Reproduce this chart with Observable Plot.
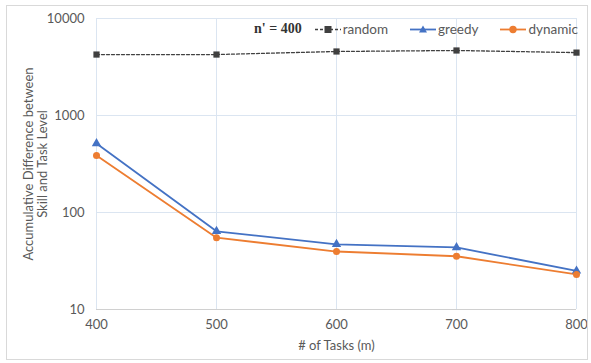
<!DOCTYPE html>
<html><head><meta charset="utf-8">
<script src="https://cdn.jsdelivr.net/npm/d3@7"></script>
<script src="https://cdn.jsdelivr.net/npm/@observablehq/plot@0.6"></script>
<style>
body{margin:0;background:#fff;font-family:Lato,"Open Sans",sans-serif;}
#wrap{position:relative;width:591px;height:363px;}
#frame{position:absolute;left:6px;top:5px;width:582px;height:355px;border:1px solid #d9d9d9;box-sizing:border-box;pointer-events:none;}
#legend{position:absolute;top:21px;left:254px;width:max-content;display:flex;align-items:center;font-size:13.5px;color:#595959;white-space:nowrap;}
#legend .n{font-family:"Liberation Serif","DejaVu Serif",serif;font-weight:bold;color:#333;font-size:14px;margin-right:12px;flex-shrink:0;}
#legend .it{display:flex;align-items:center;margin-right:21px;flex-shrink:0;}
#legend svg{margin-right:1px;}
</style></head>
<body><div id="wrap"><div id="frame"></div><div id="legend"></div></div>
<script>
const tasks = [400, 500, 600, 700, 800];
const random = [4250, 4250, 4570, 4680, 4450];
const greedy = [514, 64, 47, 43.6, 25];
const dynamic = [387, 55, 39.6, 35.4, 23];
const seriesNames = ["random", "greedy", "dynamic"];
const colors = ["#404040", "#4472C4", "#ED7D31"];
const symbols = ["square", "triangle", "circle"];
const yTicks = [10, 100, 1000, 10000];
const xTicks = [400, 500, 600, 700, 800];

const vals = {random, greedy, dynamic};
const data = seriesNames.flatMap(s => tasks.map((t, i) => ({series: s, x: t, y: vals[s][i]})));

const chart = Plot.plot({
  width: 591, height: 363,
  marginLeft: 96, marginRight: 15, marginTop: 18, marginBottom: 54,
  style: {fontFamily: "Lato, 'Open Sans', sans-serif", fontSize: "13px", color: "#595959", background: "transparent"},
  x: {domain: [400, 800], ticks: xTicks, tickSize: 0, tickPadding: 10, label: "# of Tasks (m)", labelArrow: "none", labelAnchor: "center", labelOffset: 40, tickFormat: d => String(d)},
  y: {type: "log", domain: [10, 10000], ticks: yTicks, tickSize: 0, tickPadding: 12, tickFormat: d => String(d), label: null},
  color: {domain: seriesNames, range: colors},
  symbol: {domain: seriesNames, range: symbols},
  marks: [
    Plot.gridX(xTicks, {stroke: "#dbe5f1", strokeOpacity: 1}),
    Plot.gridY(yTicks, {stroke: "#dbe5f1", strokeOpacity: 1}),
    Plot.ruleY([10], {stroke: "#d0d0d0"}),
    Plot.line(data.filter(d => d.series === "random"), {x: "x", y: "y", stroke: colors[0], strokeWidth: 1.3, strokeDasharray: "3,2"}),
    Plot.line(data.filter(d => d.series !== "random"), {x: "x", y: "y", z: "series", stroke: "series", strokeWidth: 1.8}),
    Plot.dot(data, {x: "x", y: "y", fill: "series", symbol: "series", r: 3.5, stroke: "none"}),
    Plot.text(["Accumulative Difference between\nSkill and Task Level"], {frameAnchor: "left", dx: -61, textAnchor: "middle", rotate: -90, fontSize: 13, fill: "#595959", lineHeight: 1.1})
  ]
});
document.getElementById("wrap").prepend(chart);

const lg = document.getElementById("legend");
lg.innerHTML = `<span class="n">n' = 400</span>` + seriesNames.map((s, i) => {
  const mk = symbols[i] === "square" ? `<rect x="10.5" y="3" width="7" height="7" fill="${colors[i]}"/>`
    : symbols[i] === "triangle" ? `<path d="M14,2.5 L18,9.5 L10,9.5Z" fill="${colors[i]}"/>`
    : `<circle cx="14" cy="6.5" r="3.7" fill="${colors[i]}"/>`;
  const dash = i === 0 ? 'stroke-dasharray="3,2"' : '';
  return `<span class="it"><svg width="28" height="13"><line x1="1" x2="27" y1="6.5" y2="6.5" stroke="${colors[i]}" stroke-width="${i===0?1.3:1.8}" ${dash}/>${mk}</svg>${s}</span>`;
}).join("");
</script></body></html>
